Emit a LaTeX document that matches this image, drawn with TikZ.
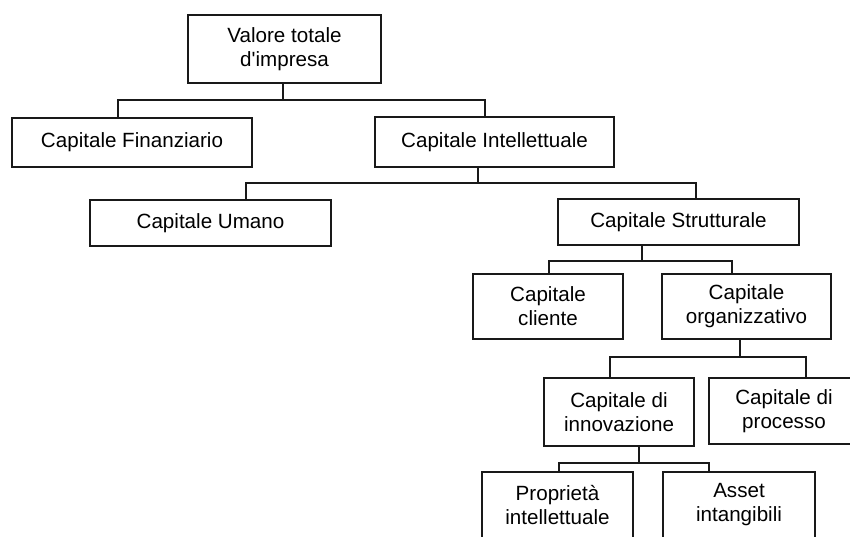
\documentclass[tikz,border=0pt]{standalone}
\usepackage{fontspec}
\setmainfont{Liberation Sans}
\tikzset{
  box/.style={draw=black!90, line width=1.7pt, inner sep=0pt, align=center,
    font=\fontsize{20.6pt}{24pt}\selectfont},
  link/.style={draw=black!90, line width=1.6pt}
}
\begin{document}
\begin{tikzpicture}[x=1pt,y=-1pt]
\useasboundingbox (0,0) rectangle (850,536);
\clip (0,0) rectangle (850,536);
% nodes
\node[box, line width=2pt, minimum width=193pt, minimum height=68pt] (top) at (284.5,49) {Valore totale\\d\textquotesingle impresa};
\node[box, minimum width=240pt, minimum height=49pt] (fin) at (132,142.5) {Capitale Finanziario};
\node[box, minimum width=239pt, minimum height=50pt] (int) at (494.5,142) {Capitale Intellettuale};
\node[box, minimum width=241pt, minimum height=46pt] (uma) at (210.5,223) {Capitale Umano};
\node[box, minimum width=241pt, minimum height=46pt] (str) at (678.5,222) {Capitale Strutturale};
\node[box, minimum width=150pt, minimum height=65pt] (cli) at (548,306.5) {Capitale\\cliente};
\node[box, minimum width=169pt, minimum height=65pt] (org) at (746.5,306.5) {Capitale\\organizzativo};
\node[box, minimum width=150pt, minimum height=68pt] (inn) at (619,412) {Capitale di\\innovazione};
\node[box, minimum width=150pt, minimum height=66pt] (pro) at (784,411) {Capitale di\\processo};
\node[box, minimum width=151pt, minimum height=66pt] (prp) at (557.5,505) {Proprietà\\intellettuale};
\node[box, minimum width=152pt, minimum height=66pt] (ast) at (739,505) {Asset\\intangibili};
% junctions
\coordinate (j1) at (283,100);  \coordinate (l1) at (118,100);  \coordinate (r1) at (485,100);
\coordinate (j2) at (478,183);  \coordinate (l2) at (246,183);  \coordinate (r2) at (696,183);
\coordinate (j3) at (642,261);  \coordinate (l3) at (549,261);  \coordinate (r3) at (732,261);
\coordinate (j4) at (740,357);  \coordinate (l4) at (610,357);  \coordinate (r4) at (806,357);
\coordinate (j5) at (639,463);  \coordinate (l5) at (559,463);  \coordinate (r5) at (709,463);
% connectors
\draw[link] (top.south -| j1) -- (j1);
\draw[link] (fin.north -| l1) -- (l1) -- (r1) -- (int.north -| r1);
\draw[link] (int.south -| j2) -- (j2);
\draw[link] (uma.north -| l2) -- (l2) -- (r2) -- (str.north -| r2);
\draw[link] (str.south -| j3) -- (j3);
\draw[link] (cli.north -| l3) -- (l3) -- (r3) -- (org.north -| r3);
\draw[link] (org.south -| j4) -- (j4);
\draw[link] (inn.north -| l4) -- (l4) -- (r4) -- (pro.north -| r4);
\draw[link] (inn.south -| j5) -- (j5);
\draw[link] (prp.north -| l5) -- (l5) -- (r5) -- (ast.north -| r5);
\end{tikzpicture}
\end{document}
